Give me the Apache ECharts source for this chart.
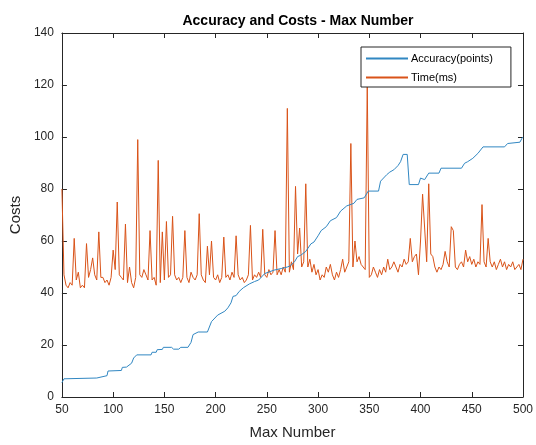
<!DOCTYPE html>
<html>
<head>
<meta charset="utf-8">
<script src="https://cdn.jsdelivr.net/npm/echarts@6/dist/echarts.min.js"></script>
<style>html,body{margin:0;padding:0;background:#fff;}#c{width:536px;height:445px;}</style>
</head>
<body>
<div id="c"></div>
<script>
// Time(ms) sampled at x = 50, 52, ..., 500
var timeStartX = 50;
var timeStepX = 2;
var timeValues = [
  80, 47, 43, 42, 44, 43, 61, 45, 48, 42,
  43, 42, 59, 46, 49, 53.5, 47, 45, 63.5, 46,
  46, 44, 45, 43, 46, 56.5, 49, 75, 47, 46,
  45, 66.5, 44, 50, 44, 42, 46, 99, 47, 46,
  49, 47, 45, 64, 45, 46, 43, 91, 44, 63.5,
  45, 67.5, 46, 47, 69.5, 47, 45, 46, 44, 46,
  64, 46, 44, 48, 46, 45, 47, 70.5, 47, 45,
  44, 58, 47, 60, 46, 45, 47, 44, 46, 61.5,
  46, 47, 45, 48, 46, 62, 47, 45, 46, 44,
  45, 47, 66, 45, 47, 46, 48, 46, 64.5, 47,
  46, 49, 47, 48, 64, 47, 49, 47, 50, 48,
  111, 48, 52, 49, 81, 55, 65, 50, 52, 82,
  50, 53, 48, 51, 47, 49, 45, 47, 46, 50,
  48, 51, 47, 45, 48, 46, 49, 53, 48, 50,
  52, 97.5, 50, 60, 52, 54, 51, 50, 49, 120,
  46, 47, 50, 48, 46, 49, 47, 50, 48, 53,
  49, 50, 52, 50, 48, 51, 50, 53, 51, 52,
  61, 52, 54, 55, 47, 60, 78, 65, 52, 82,
  55, 54, 50, 48, 50, 49, 51, 56, 52, 50,
  65.5, 64, 50, 49, 51, 52, 50, 56.5, 52, 54,
  51, 53, 50, 52, 51, 74, 52, 50, 61, 52,
  50, 52, 49, 51, 53, 50, 52, 49, 51, 50,
  52, 49, 50, 51, 49, 53
];

// Accuracy(points) breakpoints
var accX = [50, 52, 84, 85, 94, 95, 108, 109, 113, 114, 118, 120, 123, 137, 138, 142, 143, 148, 149, 157, 159, 164, 166, 173, 176, 178, 183, 192, 196, 202, 209, 212, 215, 217, 220, 223, 227, 233, 238, 242, 248, 257, 264, 270, 273, 277, 280, 283, 288, 293, 296, 300, 303, 308, 312, 318, 322, 328, 335, 338, 345, 349, 359, 361, 367, 370, 374, 378, 380.5, 383, 387, 389, 398, 400, 404, 408, 418, 420, 440, 443, 446, 451, 456, 461, 482, 485, 497, 499, 500];
var accY = [5.5, 7, 7.3, 8, 8.2, 10, 10.2, 11.4, 11.5, 12.2, 13, 15, 16.2, 16.2, 17.2, 17.2, 18.2, 18.3, 19.1, 19.1, 18.4, 18.4, 19.1, 19.1, 21, 24, 25, 25, 29, 31.5, 33, 34.3, 36.2, 38.7, 39, 40.6, 42, 43.5, 44.4, 45, 47.5, 48.8, 49.4, 50, 50.5, 52, 54, 54.5, 56, 58.9, 59.6, 62, 64, 65.5, 67.8, 69, 71.5, 73.5, 74.5, 76, 76.6, 79.2, 79.2, 83, 85.5, 86.5, 87.4, 89, 90.5, 93.3, 93.3, 81.7, 81.7, 84.2, 83.6, 86.1, 86.1, 88, 88, 89.9, 90.5, 91.8, 93.7, 96.2, 96.2, 97.5, 98, 99.5, 100];

var seriesNames = ['Accuracy(points)', 'Time(ms)'];
var xTicks = {min: 50, max: 500, interval: 50};
var yTicks = {min: 0, max: 140, interval: 20};

var timeData = timeValues.map(function (v, i) { return [timeStartX + i * timeStepX, v]; });
var accData = accX.map(function (x, i) { return [x, accY[i]]; });

var axisColor = '#262626';
var font = 'Liberation Sans, Arial, sans-serif';

var chart = echarts.init(document.getElementById('c'), null, {renderer: 'canvas'});
chart.setOption({
  backgroundColor: '#ffffff',
  animation: false,
  title: {
    text: 'Accuracy and Costs - Max Number',
    left: 293, top: 9, textAlign: 'center',
    textStyle: {fontFamily: font, fontSize: 14, fontWeight: 'bold', color: '#000'}
  },
  legend: {
    data: seriesNames,
    orient: 'vertical',
    left: 361, top: 47,
    width: 151,
    padding: [6, 18, 4, 5],
    itemGap: 8,
    itemWidth: 42, itemHeight: 2,
    icon: 'rect',
    borderColor: '#262626', borderWidth: 1,
    backgroundColor: '#fff',
    textStyle: {fontFamily: font, fontSize: 11, color: '#000', padding: [0, 0, 0, -2]}
  },
  grid: {left: 61, right: 11, top: 33, bottom: 43, containLabel: false},
  xAxis: [{
    type: 'value', min: xTicks.min, max: xTicks.max, interval: xTicks.interval,
    name: 'Max Number', nameLocation: 'middle', nameGap: 28,
    nameTextStyle: {fontFamily: font, fontSize: 15, color: axisColor},
    axisLine: {show: true, onZero: false, lineStyle: {color: axisColor, width: 1}},
    axisTick: {show: true, inside: true, length: 5, lineStyle: {color: axisColor}},
    axisLabel: {fontFamily: font, fontSize: 12, color: axisColor, margin: 7},
    splitLine: {show: false}
  }, {
    type: 'value', position: 'top', min: xTicks.min, max: xTicks.max, interval: xTicks.interval,
    axisLine: {show: true, onZero: false, lineStyle: {color: axisColor, width: 1}},
    axisTick: {show: true, inside: true, length: 5, lineStyle: {color: axisColor}},
    axisLabel: {show: false}, splitLine: {show: false}
  }],
  yAxis: [{
    type: 'value', min: yTicks.min, max: yTicks.max, interval: yTicks.interval,
    name: 'Costs', nameLocation: 'middle', nameGap: 37, nameRotate: 90,
    nameTextStyle: {fontFamily: font, fontSize: 15, color: axisColor},
    axisLine: {show: true, onZero: false, lineStyle: {color: axisColor, width: 1}},
    axisTick: {show: true, inside: true, length: 5, lineStyle: {color: axisColor}},
    axisLabel: {fontFamily: font, fontSize: 12, color: axisColor, margin: 8},
    splitLine: {show: false}
  }, {
    type: 'value', position: 'right', min: yTicks.min, max: yTicks.max, interval: yTicks.interval,
    axisLine: {show: true, onZero: false, lineStyle: {color: axisColor, width: 1}},
    axisTick: {show: true, inside: true, length: 5, lineStyle: {color: axisColor}},
    axisLabel: {show: false}, splitLine: {show: false}
  }],
  series: [{
    name: seriesNames[0], type: 'line', data: accData,
    xAxisIndex: 0, yAxisIndex: 0,
    showSymbol: false, symbol: 'none',
    lineStyle: {color: '#3187c2', width: 1},
    itemStyle: {color: '#3187c2'}, z: 3
  }, {
    name: seriesNames[1], type: 'line', data: timeData,
    xAxisIndex: 0, yAxisIndex: 0,
    showSymbol: false, symbol: 'none',
    lineStyle: {color: '#d95319', width: 1},
    itemStyle: {color: '#d95319'}, z: 2
  }]
});
</script>
</body>
</html>
